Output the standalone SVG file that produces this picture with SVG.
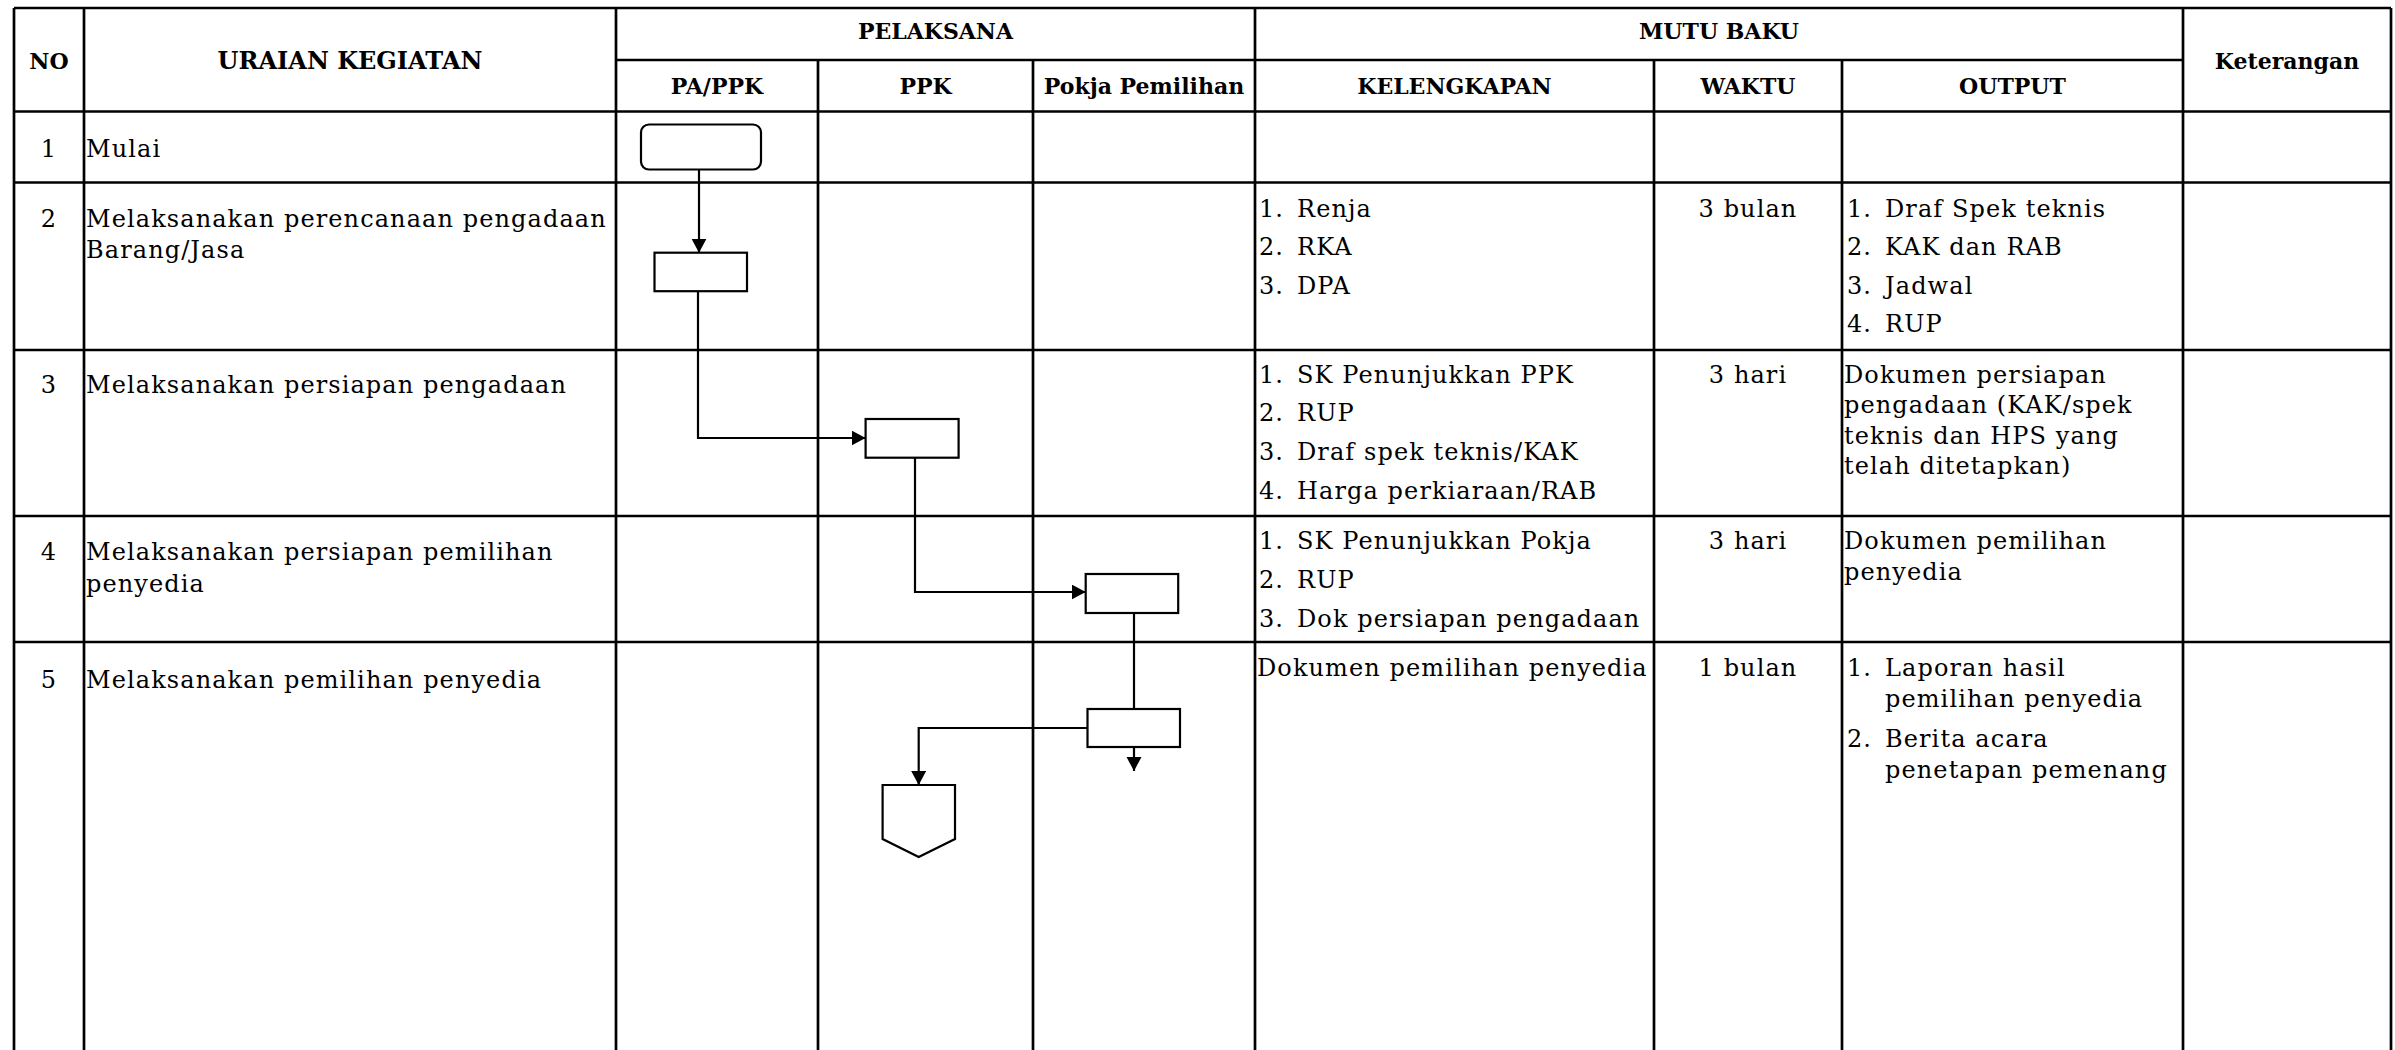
<svg xmlns="http://www.w3.org/2000/svg" width="2395" height="1050" viewBox="0 0 2395 1050">
<style>
  .grid line { stroke: #000; stroke-width: 2.7; }
  .hd { font-family: "DejaVu Serif", "Liberation Serif", serif; font-weight: bold; font-size: 22px; fill: #000; text-anchor: middle; }
  .hd-lg { font-size: 24px; }
  .tx { font-family: "DejaVu Serif", "Liberation Serif", serif; font-size: 24px; letter-spacing: 1.1px; fill: #000; }
  .ctr { text-anchor: middle; }
  .shape { fill: #fff; stroke: #000; stroke-width: 2.2; }
  .conn path { fill: none; stroke: #000; stroke-width: 2.2; }
</style>
<defs>
  <marker id="arr" markerUnits="userSpaceOnUse" markerWidth="15" markerHeight="16" refX="14" refY="7.5" orient="auto">
    <path d="M0,0 L14,7.5 L0,15 Z" fill="#000"/>
  </marker>
</defs>
<rect x="0" y="0" width="2395" height="1050" fill="#fff"/>

<g id="table" class="grid">
  <line x1="14" y1="8" x2="2391" y2="8"/>
  <line x1="14" y1="8" x2="14" y2="1050"/>
  <line x1="2391" y1="8" x2="2391" y2="1050"/>
  <line x1="84" y1="8" x2="84" y2="1050"/>
  <line x1="616" y1="8" x2="616" y2="1050"/>
  <line x1="818" y1="60" x2="818" y2="1050"/>
  <line x1="1033" y1="60" x2="1033" y2="1050"/>
  <line x1="1255" y1="8" x2="1255" y2="1050"/>
  <line x1="1654" y1="60" x2="1654" y2="1050"/>
  <line x1="1842" y1="60" x2="1842" y2="1050"/>
  <line x1="2183" y1="8" x2="2183" y2="1050"/>
  <line x1="616" y1="60" x2="2183" y2="60"/>
  <line x1="14" y1="111.5" x2="2391" y2="111.5"/>
  <line x1="14" y1="182.5" x2="2391" y2="182.5"/>
  <line x1="14" y1="350" x2="2391" y2="350"/>
  <line x1="14" y1="516" x2="2391" y2="516"/>
  <line x1="14" y1="642" x2="2391" y2="642"/>
</g>

<g id="header">
  <text class="hd" x="49" y="69">NO</text>
  <text class="hd hd-lg" x="350" y="69">URAIAN KEGIATAN</text>
  <text class="hd" x="935.5" y="39">PELAKSANA</text>
  <text class="hd" x="1719" y="39">MUTU BAKU</text>
  <text class="hd" x="717" y="94">PA/PPK</text>
  <text class="hd" x="925.5" y="94">PPK</text>
  <text class="hd" x="1144" y="94">Pokja Pemilihan</text>
  <text class="hd" x="1454.5" y="94">KELENGKAPAN</text>
  <text class="hd" x="1748" y="94">WAKTU</text>
  <text class="hd" x="2012.5" y="94">OUTPUT</text>
  <text class="hd" x="2287" y="69">Keterangan</text>
</g>

<g id="row1">
  <text class="tx ctr" x="49" y="157">1</text>
  <text class="tx" x="86" y="157">Mulai</text>
</g>

<g id="row2">
  <text class="tx ctr" x="49" y="227">2</text>
  <text class="tx" x="86" y="227">Melaksanakan perencanaan pengadaan</text>
  <text class="tx" x="86" y="258">Barang/Jasa</text>
  <text class="tx" x="1259" y="216.5">1.</text><text class="tx" x="1297" y="216.5">Renja</text>
  <text class="tx" x="1259" y="255">2.</text><text class="tx" x="1297" y="255">RKA</text>
  <text class="tx" x="1259" y="293.5">3.</text><text class="tx" x="1297" y="293.5">DPA</text>
  <text class="tx ctr" x="1748" y="216.5">3 bulan</text>
  <text class="tx" x="1847" y="216.5">1.</text><text class="tx" x="1885" y="216.5">Draf Spek teknis</text>
  <text class="tx" x="1847" y="255">2.</text><text class="tx" x="1885" y="255">KAK dan RAB</text>
  <text class="tx" x="1847" y="293.5">3.</text><text class="tx" x="1885" y="293.5">Jadwal</text>
  <text class="tx" x="1847" y="332">4.</text><text class="tx" x="1885" y="332">RUP</text>
</g>

<g id="row3">
  <text class="tx ctr" x="49" y="393">3</text>
  <text class="tx" x="86" y="393">Melaksanakan persiapan pengadaan</text>
  <text class="tx" x="1259" y="382.5">1.</text><text class="tx" x="1297" y="382.5">SK Penunjukkan PPK</text>
  <text class="tx" x="1259" y="421">2.</text><text class="tx" x="1297" y="421">RUP</text>
  <text class="tx" x="1259" y="460">3.</text><text class="tx" x="1297" y="460">Draf spek teknis/KAK</text>
  <text class="tx" x="1259" y="499">4.</text><text class="tx" x="1297" y="499">Harga perkiaraan/RAB</text>
  <text class="tx ctr" x="1748" y="382.5">3 hari</text>
  <text class="tx" x="1844" y="382.5">Dokumen persiapan</text>
  <text class="tx" x="1844" y="413">pengadaan (KAK/spek</text>
  <text class="tx" x="1844" y="443.5">teknis dan HPS yang</text>
  <text class="tx" x="1844" y="474">telah ditetapkan)</text>
</g>

<g id="row4">
  <text class="tx ctr" x="49" y="560">4</text>
  <text class="tx" x="86" y="560">Melaksanakan persiapan pemilihan</text>
  <text class="tx" x="86" y="592">penyedia</text>
  <text class="tx" x="1259" y="549">1.</text><text class="tx" x="1297" y="549">SK Penunjukkan Pokja</text>
  <text class="tx" x="1259" y="587.5">2.</text><text class="tx" x="1297" y="587.5">RUP</text>
  <text class="tx" x="1259" y="626.5">3.</text><text class="tx" x="1297" y="626.5">Dok persiapan pengadaan</text>
  <text class="tx ctr" x="1748" y="549">3 hari</text>
  <text class="tx" x="1844" y="549">Dokumen pemilihan</text>
  <text class="tx" x="1844" y="579.5">penyedia</text>
</g>

<g id="row5">
  <text class="tx ctr" x="49" y="688">5</text>
  <text class="tx" x="86" y="688">Melaksanakan pemilihan penyedia</text>
  <text class="tx" x="1257" y="676">Dokumen pemilihan penyedia</text>
  <text class="tx ctr" x="1748" y="676">1 bulan</text>
  <text class="tx" x="1847" y="676">1.</text><text class="tx" x="1885" y="676">Laporan hasil</text>
  <text class="tx" x="1885" y="707">pemilihan penyedia</text>
  <text class="tx" x="1847" y="746.5">2.</text><text class="tx" x="1885" y="746.5">Berita acara</text>
  <text class="tx" x="1885" y="778">penetapan pemenang</text>
</g>

<g id="connectors" class="conn">
  <path d="M699,169.5 L699,252.7" marker-end="url(#arr)"/>
  <path d="M698,291 L698,438 L865.6,438" marker-end="url(#arr)"/>
  <path d="M915,457.7 L915,592 L1085.7,592" marker-end="url(#arr)"/>
  <path d="M1134,613 L1134,709"/>
  <path d="M1087.5,728 L918.7,728 L918.7,785" marker-end="url(#arr)"/>
  <path d="M1134,747 L1134,771" marker-end="url(#arr)"/>
</g>

<g id="node-start"><rect class="shape" x="641" y="124.5" width="120" height="45" rx="8"/></g>
<g id="node-perencanaan"><rect class="shape" x="654.5" y="252.7" width="92.5" height="38.5"/></g>
<g id="node-persiapan"><rect class="shape" x="865.6" y="419" width="93" height="38.7"/></g>
<g id="node-persiapan-pemilihan"><rect class="shape" x="1085.7" y="574" width="92.5" height="39"/></g>
<g id="node-pemilihan"><rect class="shape" x="1087.5" y="709" width="92.5" height="38"/></g>
<g id="node-offpage"><polygon class="shape" points="882.6,785 955,785 955,839 918.7,857 882.6,839"/></g>
</svg>
